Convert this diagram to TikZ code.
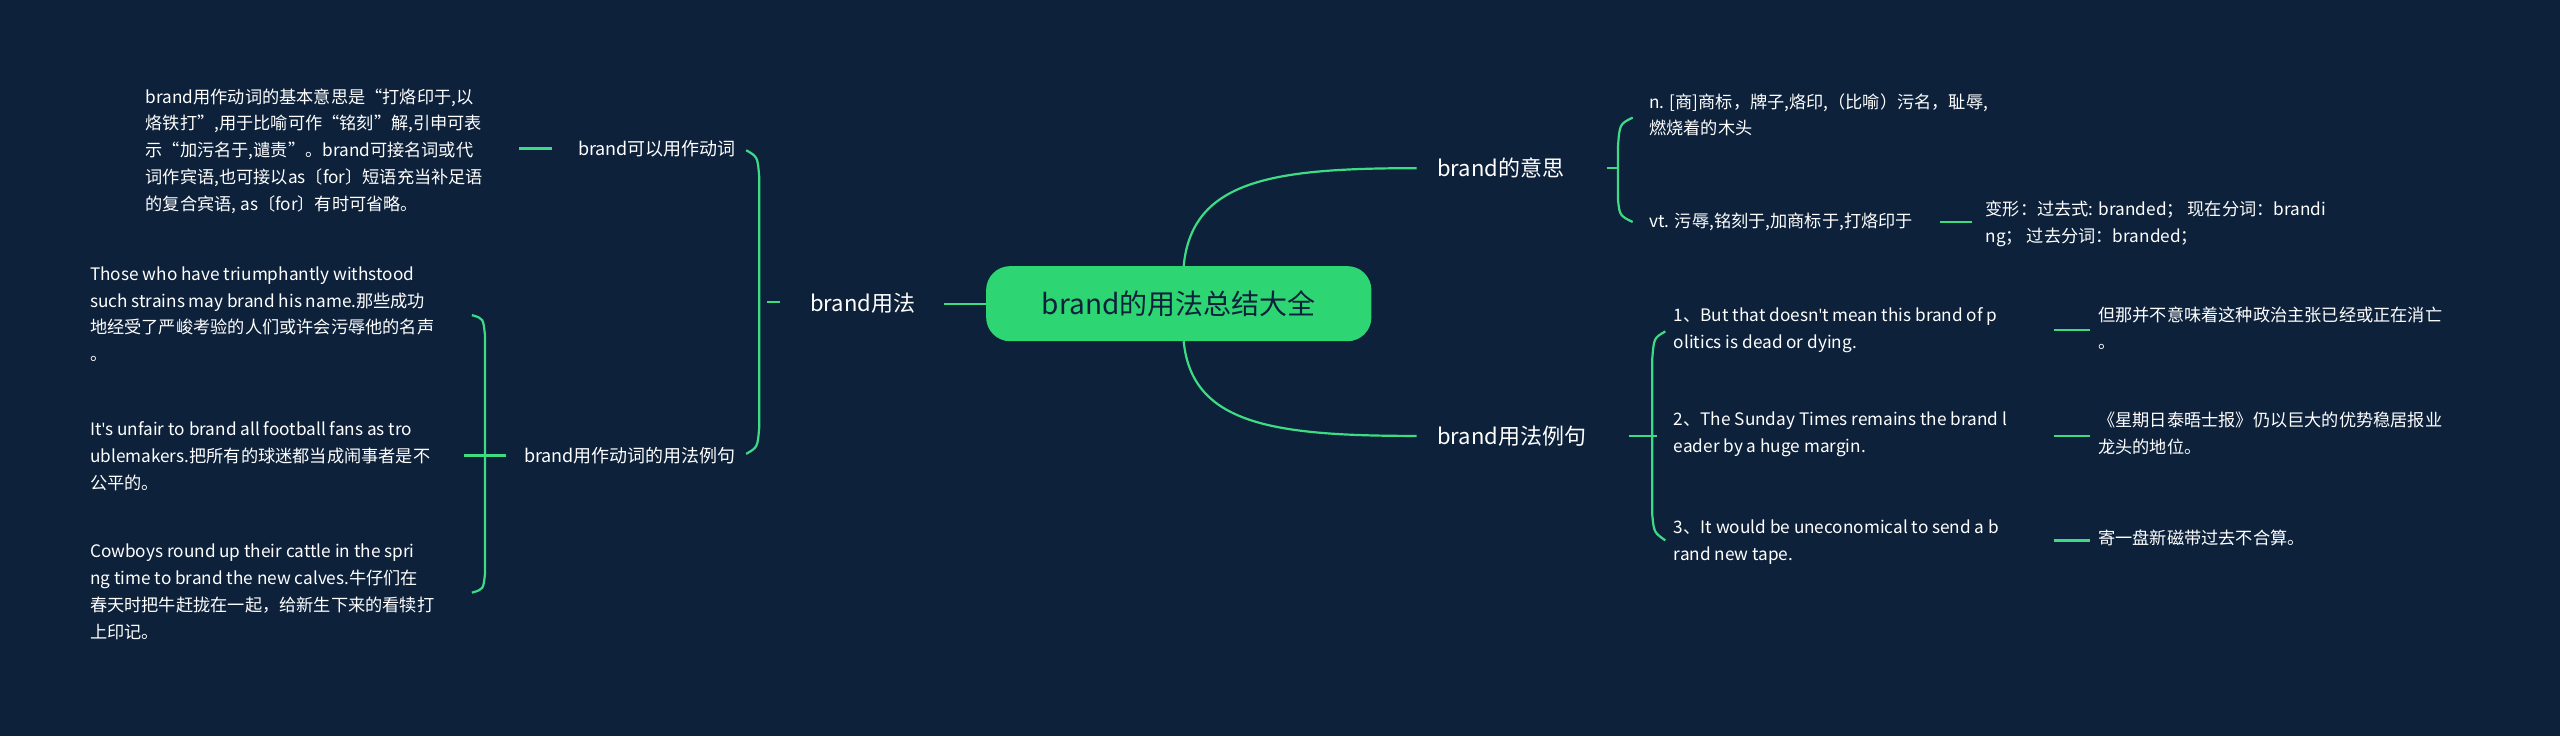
\documentclass[tikz,border=0pt]{standalone}
\usepackage{fontspec}
\setmainfont{Noto Sans CJK SC}
\newfontfamily\lat{Open Sans}
\newcommand{\ap}{{\lat '}}
\definecolor{bg}{HTML}{0D213B}
\definecolor{ln}{HTML}{3DDC84}
\definecolor{rootc}{HTML}{2ED573}
\begin{document}
\begin{tikzpicture}[x=0.8163pt,y=-0.8163pt,
  leaf/.style={text=white,font=\fontsize{8.6}{13.4}\selectfont,align=left,inner sep=0pt},
  br/.style={text=white,font=\fontsize{11}{14}\selectfont,inner sep=0pt},
  con/.style={draw=ln,line width=1.1pt}]
\fill[bg] (0,0) rectangle (1568,451);
\useasboundingbox (0,0) rectangle (1568,451);
\node[fill=rootc,rounded corners=12pt,minimum width=236*0.8163pt,minimum height=46*0.8163pt,text=bg,font=\fontsize{14}{16}\selectfont] (root) at (722,186) {brand的用法总结大全};
% right branches
\node[br,anchor=west] (mean) at (880,103) {brand的意思};
\node[br,anchor=west] (ex) at (880,267) {brand用法例句};
\node[br,anchor=west] (use) at (496,186) {brand用法};
\draw[con] (725,163) .. controls (730,110) and (780,103) .. ([xshift=-10pt]mean.west);
\draw[con] (725,209) .. controls (730,260) and (780,267) .. ([xshift=-10pt]ex.west);
\draw[con] (root.west) -- (578,186);
% meaning children
\node[leaf,anchor=north west] (n1) at (1010,57) {n. [商]商标，牌子,烙印,（比喻）污名，耻辱,\\燃烧着的木头};
\node[leaf,anchor=west] (n2) at (1010,136) {vt. 污辱,铭刻于,加商标于,打烙印于};
\node[leaf,anchor=north west] (n3) at (1216,123) {变形：过去式: branded； 现在分词：brandi\\ng； 过去分词：branded；};
\draw[con] (984,103) -- (991,103);
\draw[con] (1000,72) .. controls (992,76) .. (991,90) -- (991,122) .. controls (992,132) .. (1000,136);
\draw[con] (1188,136) -- (1208,136);
% example children
\node[leaf,anchor=north west] (e1) at (1025,188) {1、But that doesn\ap t mean this brand of p\\olitics is dead or dying.};
\node[leaf,anchor=north west] (e2) at (1025,252) {2、The Sunday Times remains the brand l\\eader by a huge margin.};
\node[leaf,anchor=north west] (e3) at (1025,318) {3、It would be uneconomical to send a b\\rand new tape.};
\node[leaf,anchor=north west] (f1) at (1285,188) {但那并不意味着这种政治主张已经或正在消亡\\。};
\node[leaf,anchor=north west] (f2) at (1285,252) {《星期日泰晤士报》仍以巨大的优势稳居报业\\龙头的地位。};
\node[leaf,anchor=north west] (f3) at (1285,324) {寄一盘新磁带过去不合算。};
\draw[con] (998,267) -- (1015,267);
\draw[con] (1020,203) .. controls (1013,207) .. (1012,220) -- (1012,315) .. controls (1013,326) .. (1020,331);
\draw[con] (1258,202) -- (1280,202);
\draw[con] (1258,267) -- (1280,267);
\draw[con] (1258,331) -- (1280,331);
% left side
\node[br,anchor=east,font=\fontsize{9}{12}\selectfont] (verb) at (451,91) {brand可以用作动词};
\node[br,anchor=east,font=\fontsize{9}{12}\selectfont] (vex) at (451,279) {brand用作动词的用法例句};
\node[leaf,anchor=north west] (vd) at (89,54) {brand用作动词的基本意思是“打烙印于,以\\烙铁打”,用于比喻可作“铭刻”解,引申可表\\示“加污名于,谴责”。brand可接名词或代\\词作宾语,也可接以as〔for〕短语充当补足语\\的复合宾语, as〔for〕有时可省略。};
\node[leaf,anchor=north west] (l1) at (55,163) {Those who have triumphantly withstood\\such strains may brand his name.那些成功\\地经受了严峻考验的人们或许会污辱他的名声\\。};
\node[leaf,anchor=north west] (l2) at (55,258) {It\ap s unfair to brand all football fans as tro\\ublemakers.把所有的球迷都当成闹事者是不\\公平的。};
\node[leaf,anchor=north west] (l3) at (55,333) {Cowboys round up their cattle in the spri\\ng time to brand the new calves.牛仔们在\\春天时把牛赶拢在一起，给新生下来的看犊打\\上印记。};
\draw[con] (470,185) -- (478,185);
\draw[con] (457,92) .. controls (464,96) .. (465,108) -- (465,262) .. controls (464,274) .. (457,278);
\draw[con] (318,91) -- (338,91);
\draw[con] (284,279) -- (310,279);
\draw[con] (289,193) .. controls (296,195) .. (297,205) -- (297,352) .. controls (296,361) .. (289,363);
\end{tikzpicture}
\end{document}
